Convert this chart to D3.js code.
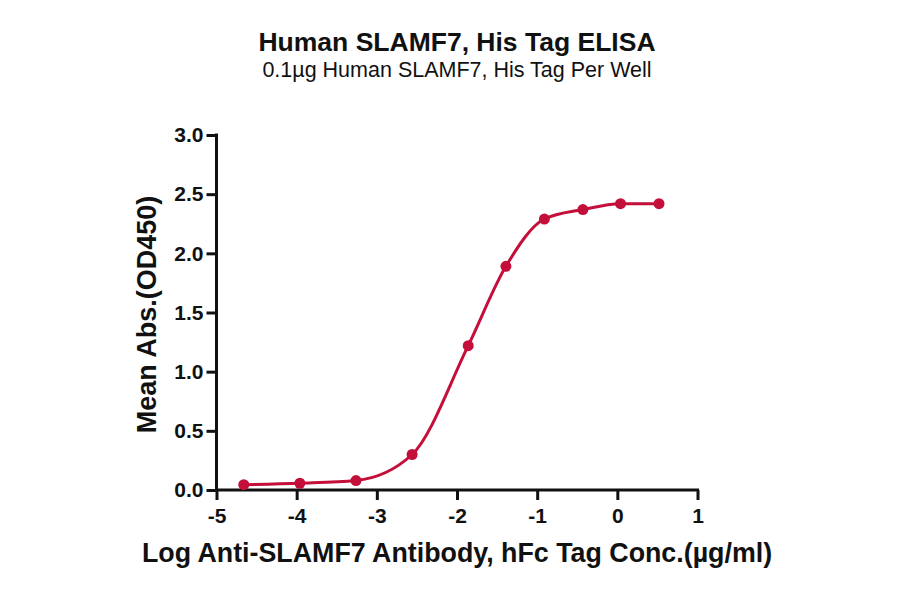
<!DOCTYPE html>
<html>
<head>
<meta charset="utf-8">
<script src="https://cdn.jsdelivr.net/npm/d3@7"></script>
<style>
  body { margin: 0; background: #fff; }
  text { font-family: "Liberation Sans", Arial, sans-serif; fill: #111; }
</style>
</head>
<body>
<div id="chart"></div>
<script>
// Data (log µg/ml vs OD450)
const logConc = [-4.66, -3.96, -3.26, -2.56, -1.86, -1.39, -0.91, -0.43, 0.04, 0.52];
const meanAbs = [0.045, 0.057, 0.08, 0.30, 1.22, 1.89, 2.29, 2.37, 2.42, 2.42];
const xTicks = [-5, -4, -3, -2, -1, 0, 1];
const yTicks = [0, 0.5, 1.0, 1.5, 2.0, 2.5, 3.0];

const titleText = 'Human SLAMF7, His Tag ELISA';
const subtitleText = '0.1µg Human SLAMF7, His Tag Per Well';
const xLabel = 'Log Anti-SLAMF7 Antibody, hFc Tag Conc.(µg/ml)';
const yLabel = 'Mean Abs.(OD450)';

const W = 900, H = 594;
const color = '#c40f3b';

const svg = d3.select('#chart')
    .append('svg')
    .attr('width', W)
    .attr('height', H);

// Scales
const x = d3.scaleLinear().domain([-5, 1]).range([216.5, 697.5]);
const y = d3.scaleLinear().domain([0, 3]).range([490, 135]);

// Titles
svg.append('text')
    .attr('x', 457).attr('y', 51)
    .attr('text-anchor', 'middle')
    .style('font-size', '26.5px')
    .style('font-weight', '700')
    .text(titleText);

svg.append('text')
    .attr('x', 457).attr('y', 77)
    .attr('text-anchor', 'middle')
    .style('font-size', '21.5px')
    .text(subtitleText);

// X axis
const xAxis = svg.append('g')
    .attr('transform', `translate(0,${y(0)})`)
    .call(d3.axisBottom(x).tickValues(xTicks).tickFormat(d => String(d)).tickSize(10).tickSizeOuter(0).tickPadding(8));

// Y axis
const yAxis = svg.append('g')
    .attr('transform', `translate(${x(-5)},0)`)
    .call(d3.axisLeft(y).tickValues(yTicks).tickFormat(d3.format('.1f')).tickSize(10).tickSizeOuter(0).tickPadding(3));

[xAxis, yAxis].forEach(g => {
    g.select('.domain').attr('stroke', '#111').attr('stroke-width', 3);
    g.selectAll('.tick line').attr('stroke', '#111').attr('stroke-width', 3);
    g.selectAll('.tick text')
        .style('font-family', '"Liberation Sans", Arial, sans-serif')
        .style('font-size', '21px')
        .style('font-weight', '700')
        .attr('fill', '#111');
});
// extend domains to cover the corner
xAxis.select('.domain').attr('d', `M${x(-5) - 1.5},0H${x(1) + 1.5}`);
yAxis.select('.domain').attr('d', `M0,${y(3) - 1.5}V${y(0) + 1.5}`);

// Axis labels
svg.append('text')
    .attr('x', 457).attr('y', 562)
    .attr('text-anchor', 'middle')
    .style('font-size', '26.8px')
    .style('font-weight', '700')
    .text(xLabel);

svg.append('text')
    .attr('transform', `translate(156,${(y(0) + y(3)) / 2 + 2}) rotate(-90)`)
    .attr('text-anchor', 'middle')
    .style('font-size', '27px')
    .style('font-weight', '700')
    .text(yLabel);

// Curve through points
const pts = logConc.map((c, i) => ({ c, v: meanAbs[i] }));
const line = d3.line()
    .x(d => x(d.c))
    .y(d => y(d.v))
    .curve(d3.curveMonotoneX);

svg.append('path')
    .datum(pts)
    .attr('fill', 'none')
    .attr('stroke', color)
    .attr('stroke-width', 3)
    .attr('d', line);

svg.selectAll('.dot')
    .data(pts)
    .enter()
    .append('circle')
    .attr('class', 'dot')
    .attr('cx', d => x(d.c))
    .attr('cy', d => y(d.v))
    .attr('r', 5.5)
    .attr('fill', color);
</script>
</body>
</html>
